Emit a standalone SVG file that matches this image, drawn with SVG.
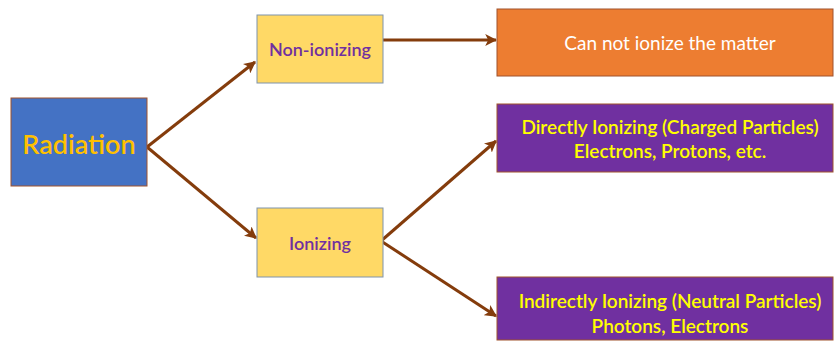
<svg xmlns="http://www.w3.org/2000/svg" width="834" height="342" viewBox="0 0 834 342">
<defs>
<marker id="ah" viewBox="0 0 10 10" refX="9" refY="5" markerWidth="4" markerHeight="4" orient="auto" markerUnits="strokeWidth">
<path d="M0,0 L10,5 L0,10 L2.5,5 z" fill="#843C0C"/>
</marker>
<style>
.t{font-family:Lato,"Open Sans",sans-serif;text-anchor:middle;dominant-baseline:central}
.yel{fill:#FFD966;stroke:#7F93AC;stroke-width:1}
.pur{fill:#7030A0;stroke:#A0522D;stroke-width:1}
.c{fill:none;stroke:#843C0C;stroke-width:3;marker-end:url(#ah)}
</style>
</defs>
<rect width="834" height="342" fill="#FFFFFF"/>
<g id="connectors">
<path class="c" d="M147,147 L255,62"/>
<path class="c" d="M147,147 L256,238"/>
<path class="c" d="M383,40 L496,40"/>
<path class="c" d="M381,241 L496,141"/>
<path class="c" d="M381,241 L496,316"/>
</g>
<g id="radiation">
<rect x="11" y="98" width="136" height="88" fill="#4472C4" stroke="#A0522D" stroke-width="1"/>
<text class="t" x="79" y="143" font-size="27" fill="#FFC000" font-weight="600">Radiation</text>
</g>
<g id="non-ionizing">
<rect class="yel" x="257" y="15" width="126" height="68"/>
<text class="t" x="320" y="49" font-size="18" fill="#7030A0" font-weight="600">Non-ionizing</text>
</g>
<g id="ionizing">
<rect class="yel" x="257" y="208" width="126" height="69"/>
<text class="t" x="320" y="243" font-size="18" fill="#7030A0" font-weight="600">Ionizing</text>
</g>
<g id="cannot">
<rect x="497" y="9" width="336" height="67" fill="#ED7D31" stroke="#A0522D" stroke-width="1"/>
<text class="t" x="670" y="42" font-size="19" fill="#FFFFFF">Can not ionize the matter</text>
</g>
<g id="direct">
<rect class="pur" x="497" y="104" width="336" height="68"/>
<text class="t" x="670" y="126" font-size="19" fill="#FFFF00" font-weight="600">Directly Ionizing (Charged Particles)</text>
<text class="t" x="670" y="150" font-size="19" fill="#FFFF00" font-weight="600">Electrons, Protons, etc.</text>
</g>
<g id="indirect">
<rect class="pur" x="497" y="277" width="336" height="63"/>
<text class="t" x="670" y="300" font-size="19" fill="#FFFF00" font-weight="600">Indirectly Ionizing (Neutral Particles)</text>
<text class="t" x="670" y="325" font-size="19" fill="#FFFF00" font-weight="600">Photons, Electrons</text>
</g>
</svg>
